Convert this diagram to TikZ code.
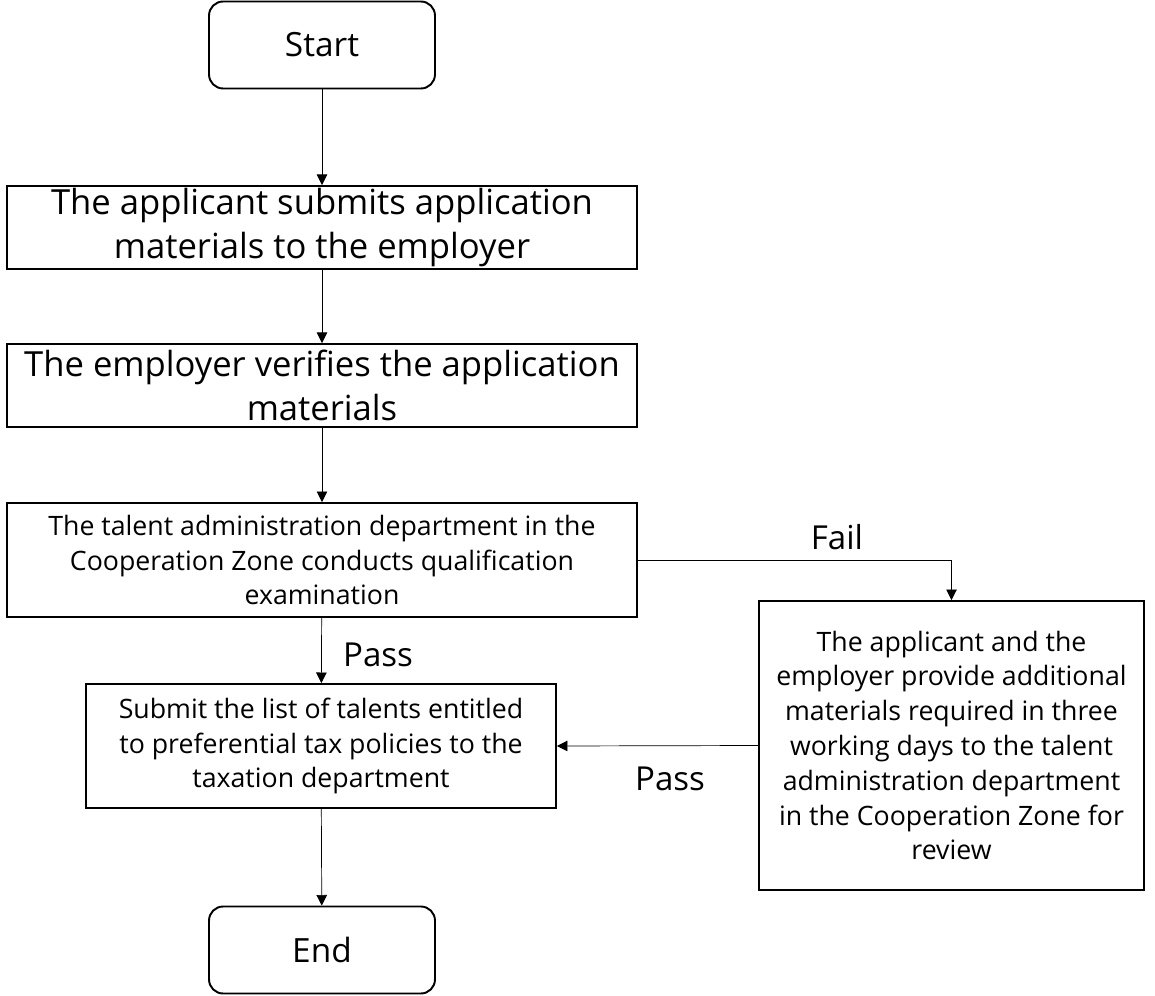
\documentclass[tikz,border=0pt]{standalone}
\usepackage{fontspec}
\setmainfont{Open Sans}
\usetikzlibrary{arrows.meta}
\begin{document}
\begin{tikzpicture}[x=0.02cm,y=-0.02cm,>={Triangle[length=6pt,width=6pt]},
  box/.style={draw,line width=1.1pt,align=center,inner sep=0pt},
  term/.style={box,rounded corners=8pt,minimum width=4.52cm,minimum height=1.74cm,font=\fontsize{19}{25}\selectfont},
  big/.style={font=\fontsize{19.7}{25}\selectfont},
  small/.style={font=\fontsize{15.2}{19.8}\selectfont},
  lbl/.style={font=\fontsize{18.8}{22}\selectfont}]
  \useasboundingbox (0,0) rectangle (1155,996);
  \node[term] (start) at (322,45) {Start};
  \node[box,big,minimum width=12.6cm,minimum height=1.66cm] (submit) at (322,227.5)
    {The applicant submits application\\materials to the employer};
  \node[box,big,minimum width=12.6cm,minimum height=1.66cm] (verify) at (322,385.5)
    {The employer verifies the application\\materials};
  \node[box,small,minimum width=12.6cm,minimum height=2.28cm] (exam) at (322,560)
    {The talent administration department in the\\Cooperation Zone conducts qualification\\examination};
  \node[box,small,minimum width=9.4cm,minimum height=2.48cm] (report) at (321,746)
    {Submit the list of talents entitled\\to preferential tax policies to the\\taxation department};
  \node[box,small,minimum width=7.7cm,minimum height=5.78cm] (review) at (951.5,745.5)
    {The applicant and the\\employer provide additional\\materials required in three\\working days to the talent\\administration department\\in the Cooperation Zone for\\review};
  \node[term] (end) at (322,950) {End};
  % connectors
  \draw[->] (start) -- (submit);
  \draw[->] (submit) -- (verify);
  \draw[->] (verify) -- (exam);
  \draw[->] (exam) -- (report);
  \draw[->] (report) -- (end);
  \draw[->] (exam.east) -| (review.north);
  \draw[->] (review.west) -- (report.east);
  \node[lbl] (fail) at (837,537) {Fail};
  \node[lbl] (pass1) at (378,655) {Pass};
  \node[lbl] (pass2) at (670,779) {Pass};
\end{tikzpicture}
\end{document}
